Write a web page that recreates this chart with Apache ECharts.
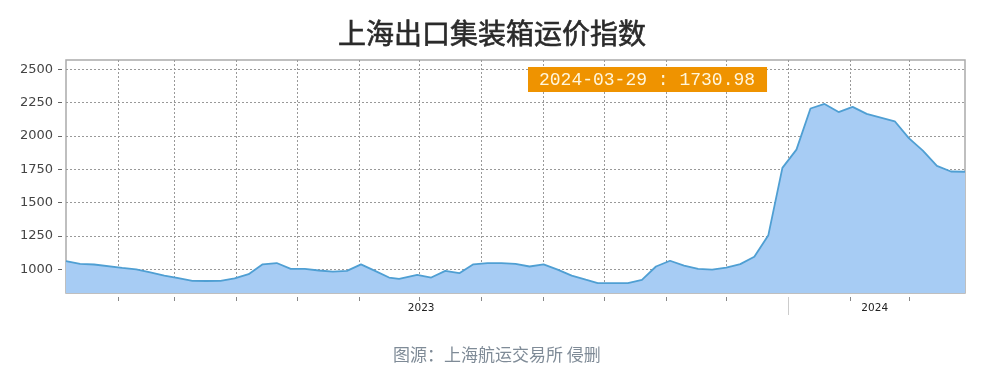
<!DOCTYPE html>
<html>
<head>
<meta charset="utf-8">
<title>上海出口集装箱运价指数</title>
<script src="https://cdn.jsdelivr.net/npm/echarts@6.0.0/dist/echarts.min.js"></script>
<style>
  html, body { margin: 0; padding: 0; background: #fff; }
  #chart { width: 1000px; height: 377px; }
</style>
</head>
<body>
<div id="chart"></div>
<script>
// weekly index
const dates = [
  '2023-01-06', '2023-01-13', '2023-01-20', '2023-02-03', '2023-02-10', '2023-02-17', '2023-02-24',
  '2023-03-03', '2023-03-10', '2023-03-17', '2023-03-24', '2023-03-31', '2023-04-07', '2023-04-14',
  '2023-04-21', '2023-04-28', '2023-05-05', '2023-05-12', '2023-05-19', '2023-05-26', '2023-06-02',
  '2023-06-09', '2023-06-16', '2023-06-21', '2023-06-30', '2023-07-07', '2023-07-14', '2023-07-21',
  '2023-07-28', '2023-08-04', '2023-08-11', '2023-08-18', '2023-08-25', '2023-09-01', '2023-09-08',
  '2023-09-15', '2023-09-22', '2023-09-28', '2023-10-13', '2023-10-20', '2023-10-27', '2023-11-03',
  '2023-11-10', '2023-11-17', '2023-11-24', '2023-12-01', '2023-12-08', '2023-12-15', '2023-12-22',
  '2023-12-29', '2024-01-05', '2024-01-12', '2024-01-19', '2024-01-26', '2024-02-02', '2024-02-09',
  '2024-02-23', '2024-03-01', '2024-03-08', '2024-03-15', '2024-03-22', '2024-03-29'
]
const values = [
  1061, 1040, 1035, 1010, 999, 976, 952,
  932, 912, 911, 912, 930, 962, 1036,
  1046, 1002, 1002, 990, 982, 987, 1036,
  987, 937, 927, 957, 937, 987, 970,
  1036, 1046, 1046, 1039, 1020, 1036, 997,
  952, 921, 895, 895, 920, 1020, 1063,
  1027, 1002, 997, 1012, 1038, 1093, 1255,
  1760, 1897, 2206, 2240, 2179, 2218, 2166,
  2110, 1984, 1890, 1775, 1733, 1730.98
]

const monthTicks = [
  '2023-02-01', '2023-03-01', '2023-04-01', '2023-05-01', '2023-06-01', '2023-07-01', '2023-08-01',
  '2023-09-01', '2023-10-01', '2023-11-01', '2023-12-01', '2024-01-01', '2024-02-01', '2024-03-01'
]
const yearLabels = ['2023-07-02', '2024-02-13']
const yearBreaks = ['2024-01-01']
const yTicks = [1000, 1250, 1500, 1750, 2000, 2250, 2500]

const ts = s => new Date(s + 'T00:00:00').getTime()
const xMin = ts('2023-01-06')
const xMax = ts('2024-03-29')

const chart = echarts.init(document.getElementById('chart'))

const lastDate = dates[dates.length - 1]
const lastValue = values[values.length - 1]

const option = {
  animation: false,
  backgroundColor: '#fff',
  title: [
    {
      text: '上海出口集装箱运价指数',
      left: 338,
      top: 19,
      padding: 0,
      textStyle: {
        fontFamily: 'Noto Sans CJK SC',
        fontSize: 28,
        fontWeight: 'normal',
        color: '#2a2a2a',
        textBorderColor: '#2a2a2a',
        textBorderWidth: 0.6
      }
    },
    {
      text: lastDate + ' : ' + lastValue.toFixed(2),
      left: 528,
      top: 67,
      padding: [4, 12, 3, 11],
      backgroundColor: '#ef9300',
      textStyle: {
        fontFamily: 'Liberation Mono',
        fontSize: 18,
        fontWeight: 'normal',
        color: '#fff6dc'
      }
    },
    {
      text: '图源：上海航运交易所 侵删',
      left: 393,
      top: 346,
      padding: 0,
      textStyle: {
        fontFamily: 'Noto Sans CJK SC',
        fontSize: 17,
        fontWeight: 'normal',
        color: '#7f8b97'
      }
    }
  ],
  grid: {
    left: 66,
    right: 35,
    top: 60,
    bottom: 84,
    show: true,
    borderColor: '#aaa',
    borderWidth: 1.5
  },
  xAxis: [
    {
      type: 'value',
      min: xMin,
      max: xMax,
      position: 'bottom',
      offset: 4,
      axisLine: { show: false },
      axisTick: {
        customValues: monthTicks.map(ts),
        length: 4,
        lineStyle: { color: '#888' }
      },
      axisLabel: {
        customValues: yearLabels.map(ts),
        formatter: v => String(new Date(v).getFullYear()),
        margin: 6,
        fontFamily: 'DejaVu Sans',
        fontSize: 10.5,
        color: '#222'
      },
      splitLine: {
        show: true,
        lineStyle: { color: '#999', type: [2, 2], width: 1 }
      }
    },
    {
      type: 'value',
      min: xMin,
      max: xMax,
      position: 'bottom',
      offset: 4,
      axisLine: { show: false },
      axisTick: {
        customValues: yearBreaks.map(ts),
        length: 18,
        lineStyle: { color: '#ccc' }
      },
      axisLabel: { show: false },
      splitLine: { show: false }
    }
  ],
  yAxis: {
    type: 'value',
    min: 821,
    max: 2570,
    offset: 4,
    axisLine: { show: false },
    axisTick: {
      show: true,
      customValues: yTicks,
      length: 4,
      lineStyle: { color: '#666' }
    },
    axisLabel: {
      customValues: yTicks,
      formatter: v => String(v),
      margin: 9,
      fontFamily: 'DejaVu Sans',
      fontSize: 13,
      color: '#444'
    },
    splitLine: {
      show: true,
      lineStyle: { color: '#999', type: [2, 2], width: 1 }
    }
  },
  series: [
    {
      type: 'line',
      xAxisIndex: 0,
      data: dates.map((d, i) => [ts(d), values[i]]),
      showSymbol: false,
      lineStyle: { color: '#4f9fd3', width: 1.8 },
      areaStyle: { color: '#a7ccf4', opacity: 1, origin: 'start' },
      z: 3
    }
  ]
}

chart.setOption(option)
</script>
</body>
</html>
